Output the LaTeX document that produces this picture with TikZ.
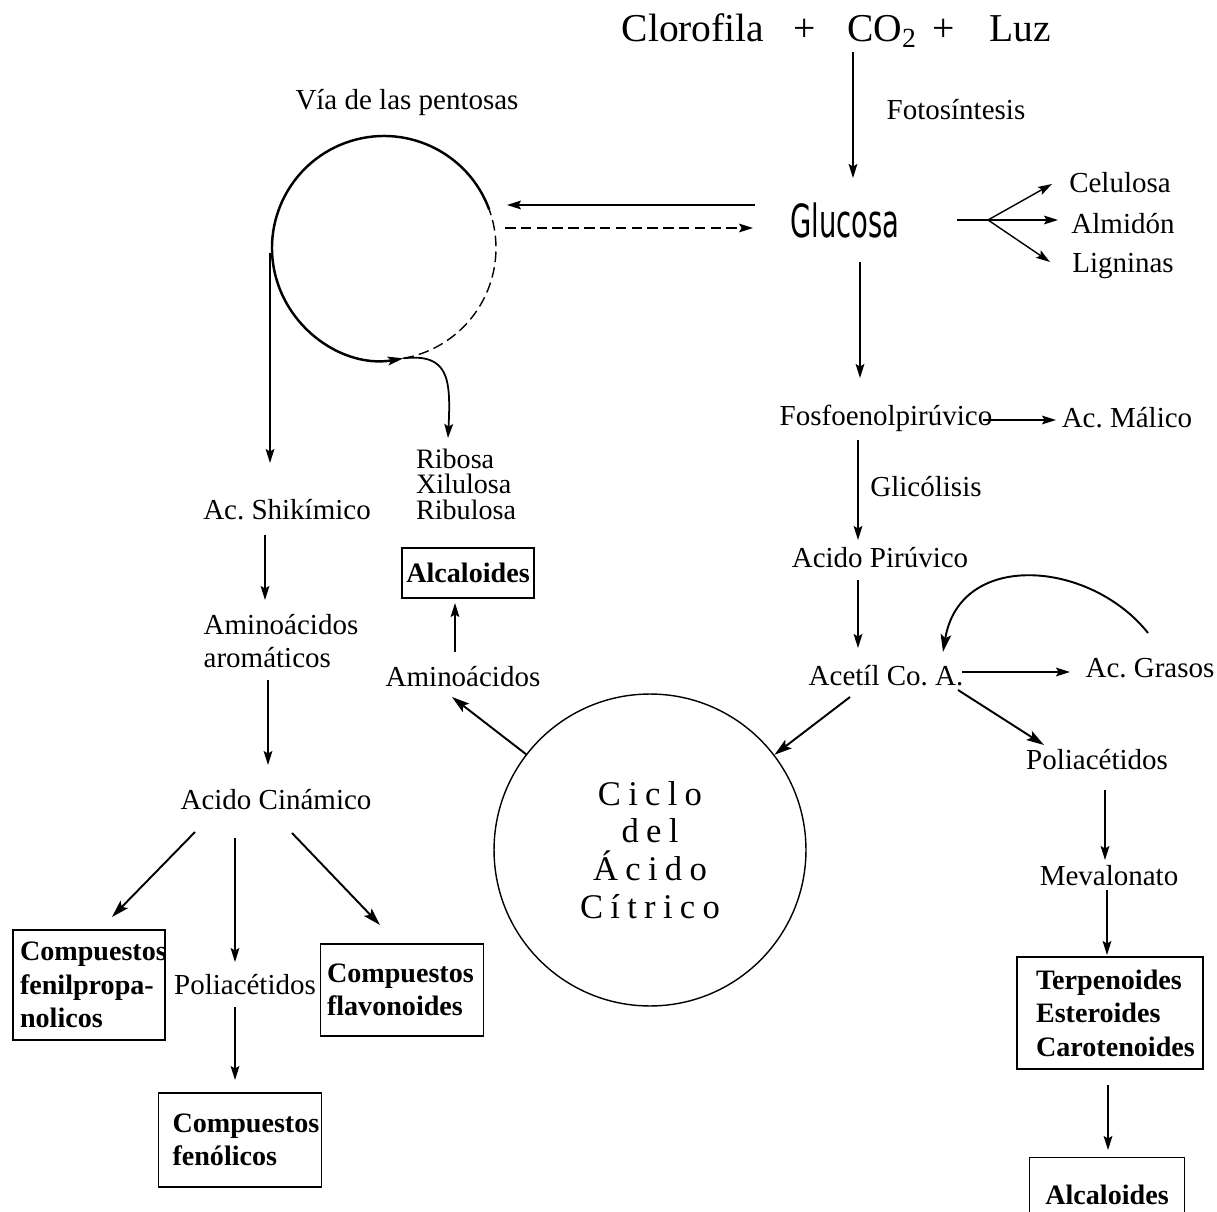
\documentclass[tikz,border=0pt]{standalone}
\usepackage{fontspec}
\setmainfont{Liberation Serif}
\newfontfamily\glufont[FakeStretch=0.6]{DejaVu Sans}
\usetikzlibrary{arrows.meta,calc}

\begin{document}
\frenchspacing
\begin{tikzpicture}[
    x=0.02cm, y=0.02cm,
    every node/.style={font=\fontsize{16.5}{19}\selectfont, inner sep=1pt},
    big/.style={font=\fontsize{22.5}{26}\selectfont, anchor=base},
    box/.style={draw, line width=0.8pt, font=\bfseries\fontsize{16}{19}\selectfont, align=left},
    arrow/.style={-{Stealth[length=8pt,width=5pt,inset=1.5pt]}, line width=0.8pt},
    fat/.style={-{Stealth[length=10pt,width=6pt,inset=2pt]}, line width=1.1pt},
    dashline/.style={dash pattern=on 6pt off 3pt}
]
\useasboundingbox (0,0) rectangle (1217,-1212);

% top line
\node[big] (clo) at (693,-42) {Clorofila};
\node[big] (plus1) at (805,-42) {+};
\node[big] (co2) at (882,-42) {CO\textsubscript{2}};
\node[big] (plus2) at (944,-42) {+};
\node[big] (luz) at (1020,-42) {Luz};
\node (foto) at (956,-110) {Fotosíntesis};

% glucosa and products
\node[font=\glufont\fontsize{26}{30}\selectfont] (glu) at (845,-220) {Glucosa};
\node (cel) at (1120,-183) {Celulosa};
\node (alm) at (1123,-224) {Almidón};
\node (lig) at (1123,-266) {Ligninas};

% right column
\node (fos) at (886,-418) {Fosfoenolpirúvico};
\node (mal) at (1127,-418) {Ac. Málico};
\node (gli) at (926,-487) {Glicólisis};
\node (pir) at (880,-558) {Acido Pirúvico};
\node (ace) at (886,-676) {Acetíl Co. A.};
\node (gra) at (1150,-668) {Ac. Grasos};
\node (pol) at (1097,-760) {Poliacétidos};
\node (mev) at (1109,-876) {Mevalonato};
\node[box, text width=2.96cm, inner xsep=0.38cm, minimum height=2.24cm] (ter) at (1110,-1013) {Terpenoides\\Esteroides\\Carotenoides};
\node[box, minimum width=3.1cm, minimum height=1.5cm, align=center] (alc2) at (1107,-1195) {Alcaloides};

% citric acid cycle
\node[circle, draw, line width=0.8pt, minimum size=6.24cm, inner sep=0pt, align=center,
      font=\fontsize{19.7}{21.5}\selectfont\addfontfeatures{LetterSpace=21}] (cic) at (650,-850) {Ciclo\\del\\Ácido\\Cítrico};
\node (ami) at (463,-677) {Aminoácidos};
\node[box, minimum width=2.64cm, minimum height=1cm, align=center] (alc1) at (468,-573) {Alcaloides};

% pentose pathway
\node (via) at (407,-103) {Vía de las pentosas};
\coordinate (pc) at (384,-248);
\node[anchor=west, align=left, font=\fontsize{16}{14.5}\selectfont] (rib) at (414,-484) {Ribosa\\Xilulosa\\Ribulosa};

% left column
\node (shi) at (287,-510) {Ac. Shikímico};
\node[align=left] (aro) at (281,-641) {Aminoácidos\\aromáticos};
\node (cin) at (276,-800) {Acido Cinámico};
\node[box, text width=2.76cm, inner xsep=0.14cm, minimum height=2.2cm] (fen) at (89,-985) {Compuestos\\fenilpropa-\\nolicos};
\node (pol2) at (245,-985) {Poliacétidos};
\node[box, text width=3.0cm, inner xsep=0.13cm, minimum height=1.84cm] (fla) at (402,-990) {Compuestos\\flavonoides};
\node[box, text width=2.7cm, inner xsep=0.28cm, minimum height=1.88cm] (fnl) at (240,-1140) {Compuestos\\fenólicos};

% pentose circle
\draw[line width=1.4pt, -{Stealth[length=9pt,width=5pt,inset=2pt]}] ($(pc)+(20:112)$) arc[start angle=20, end angle=280, radius=112];
\draw[line width=0.8pt, dashline] ($(pc)+(-80:112)$) arc[start angle=-80, end angle=20, radius=112];
\draw[arrow, line width=1pt] ($(pc)+(-80:112)$) .. controls +(45,5) and +(3,60) .. ($(rib.west)+(34,46)$);
\draw[arrow] ($(pc)+(-114,-5)$) -- ($(shi)+(-17,47)$);

% connectors, top and right
\draw[arrow] ($(co2.base)+(-29,-10)$) -- ($(glu)+(8,42)$);
\draw[arrow] ($(glu)+(-90,15)$) -- ($(pc)+(123,43)$);
\draw[arrow, dashline] ($(pc)+(121,20)$) -- ($(glu)+(-92,-8)$);
\coordinate (fork) at ($(glu)+(143,0)$);
\draw[line width=0.8pt] ($(glu)+(112,0)$) -- (fork);
\draw[arrow] (fork) -- ($(cel)+(-68,-1)$);
\draw[arrow] (fork) -- ($(alm)+(-65,4)$);
\draw[arrow] (fork) -- ($(lig)+(-73,4)$);
\draw[arrow] ($(glu)+(15,-42)$) -- ($(fos)+(-26,40)$);
\draw[arrow] ($(fos)+(97,-2)$) -- ($(mal)+(-71,-2)$);
\draw[arrow] ($(fos)+(-28,-22)$) -- ($(pir)+(-22,18)$);
\draw[arrow] ($(pir)+(-22,-22)$) -- ($(ace)+(-28,28)$);
\draw[arrow] ($(ace)+(76,4)$) -- ($(gra)+(-80,-4)$);
\draw[fat] ($(gra)+(-2,35)$) .. controls +(-58,73) and +(17,102) .. ($(ace)+(57,24)$);
\draw[fat] ($(ace)+(72,-14)$) -- ($(pol)+(-53,15)$);
\draw[fat] ($(ace)+(-36,-21)$) -- (cic);
\draw[arrow] ($(pol)+(8,-30)$) -- ($(mev)+(-4,16)$);
\draw[arrow] ($(mev)+(-2,-14)$) -- ($(ter)+(-3,58)$);
\draw[arrow] ($(ter)+(-2,-72)$) -- ($(alc2)+(1,45)$);

% connectors, middle and left
\draw[fat] (cic) -- ($(ami)+(-11,-20)$);
\draw[arrow] ($(ami)+(-8,25)$) -- ($(alc1)+(-13,-30)$);
\draw[arrow] ($(shi)+(-22,-25)$) -- ($(aro)+(-16,41)$);
\draw[arrow] ($(aro)+(-13,-39)$) -- ($(cin)+(-8,35)$);
\draw[fat] ($(cin)+(-81,-32)$) -- ($(fen)+(23,68)$);
\draw[arrow] ($(cin)+(-41,-38)$) -- ($(pol2)+(-10,23)$);
\draw[fat] ($(cin)+(16,-33)$) -- ($(fla)+(-22,65)$);
\draw[arrow] ($(pol2)+(-10,-22)$) -- ($(fnl)+(-5,60)$);
\end{tikzpicture}
\end{document}
